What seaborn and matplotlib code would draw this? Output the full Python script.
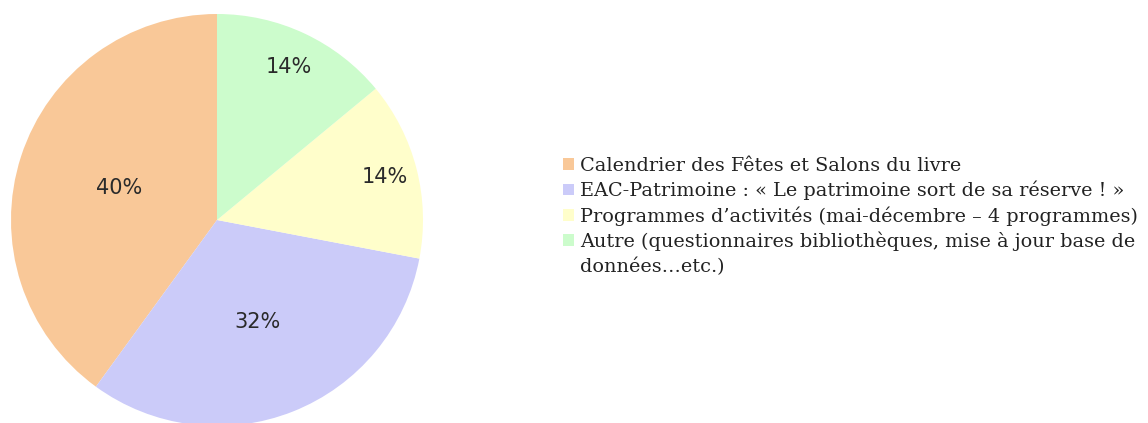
import matplotlib
matplotlib.use("Agg")
import matplotlib.pyplot as plt
import seaborn as sns
import numpy as np
from matplotlib.patches import Rectangle
from matplotlib.legend_handler import HandlerPatch

categories = [
    "Calendrier des Fêtes et Salons du livre",
    "EAC-Patrimoine : « Le patrimoine sort de sa réserve ! »",
    "Programmes d’activités (mai-décembre – 4 programmes)",
    "Autre (questionnaires bibliothèques, mise à jour base de\ndonnées…etc.)",
]
values = [40, 32, 14, 14]
pct_labels = ["40%", "32%", "14%", "14%"]
colors = ["#F9C898", "#CBCBF9", "#FFFECB", "#CCFCCC"]
label_dist = [0.50, 0.53, 0.84, 0.82]

sns.set_theme(style="white")
plt.rcParams["font.family"] = ["DejaVu Serif", "Liberation Serif"]

LEG_FS = 13.9
LINESP = 1.45

fig = plt.figure(figsize=(11.48, 4.23), dpi=100)
ax = fig.add_axes([217/1148 - 206/1148, 203/423 - 206/423, 412/1148, 412/423])
wedges, _ = ax.pie(values, colors=colors, startangle=90, counterclock=True,
                   radius=1, wedgeprops=dict(linewidth=0))
for w, lab, d in zip(wedges, pct_labels, label_dist):
    ang = np.deg2rad((w.theta1 + w.theta2) / 2)
    ax.text(d * np.cos(ang), d * np.sin(ang), lab, ha="center", va="center",
            fontsize=15, color="#2a2a2a", family=["DejaVu Sans"])
ax.set_xlim(-1, 1)
ax.set_ylim(-1, 1)
ax.set_aspect("equal")
ax.axis("off")


def top_line_patch(legend, orig_handle, xdescent, ydescent, width, height, fontsize):
    shift = 0.5 * LINESP * fontsize
    return Rectangle((-xdescent, -ydescent + shift), width, height)


handler_map = {}
for w, lab in zip(wedges, categories):
    if "\n" in lab:
        handler_map[w] = HandlerPatch(patch_func=top_line_patch)

leg = fig.legend(wedges, categories, loc="upper left",
                 bbox_to_anchor=(563/1148, 1 - 157/423), frameon=False,
                 fontsize=LEG_FS, handlelength=0.55, handleheight=0.55,
                 handletextpad=0.35, labelspacing=0.3, borderpad=0,
                 borderaxespad=0, handler_map=handler_map)
for t in leg.get_texts():
    t.set_color("#222222")
    t.set_linespacing(LINESP)

fig.savefig("out.png", dpi=100)
